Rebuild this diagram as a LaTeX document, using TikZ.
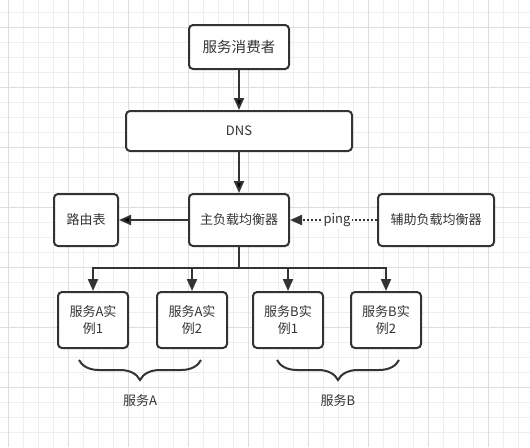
\documentclass[tikz,border=0pt]{standalone}
\usepackage{fontspec}
\setmainfont{Noto Sans CJK SC}
\usepackage{tikz}
\usetikzlibrary{arrows.meta, decorations.pathreplacing}
\definecolor{ink}{HTML}{333333}
\definecolor{gridminor}{HTML}{EEEEEE}
\definecolor{gridmajor}{HTML}{DDDDDD}

\begin{document}
\begin{tikzpicture}[x = 0.75pt, y = -0.75pt, >={Triangle[length = 9pt, width = 7.5pt]},
    box/.style = {draw = ink, line width = 1.5pt, rounded corners = 3pt, fill = white, text = ink, align = center, inner sep = 0pt, font = \fontsize{9.75}{12.75}\selectfont},
    inst/.style = {box, minimum width = 52.5pt, minimum height = 42pt},
    link/.style = {draw = ink, line width = 1.5pt},
    pinglink/.style = {link, dash pattern = on 1.5pt off 1.5pt},
    description/.style = {fill = white, text = ink, inner sep = 1pt, font = \fontsize{9.75}{12}\selectfont},
    group/.style = {link, decorate, decoration = {brace, mirror, amplitude = 15pt}},
    caption/.style = {text = ink, font = \fontsize{9.75}{12}\selectfont}]
      \useasboundingbox (0,0) rectangle (530,447);
      % background grid
      \fill[white] (0,0) rectangle (530,447);
      \foreach \x in {8.3, 23.3, ..., 530} \draw[gridminor, line width = 0.75pt] (\x,0) -- (\x,447);
      \foreach \y in {12.3, 27.3, ..., 447} \draw[gridminor, line width = 0.75pt] (0,\y) -- (530,\y);
      \foreach \x in {8.3, 68.3, ..., 530} \draw[gridmajor, line width = 0.75pt] (\x,0) -- (\x,447);
      \foreach \y in {27.3, 87.3, ..., 447} \draw[gridmajor, line width = 0.75pt] (0,\y) -- (530,\y);

      \node[box, minimum width = 75pt, minimum height = 33pt, font = \fontsize{10.9}{13}\selectfont] (consumer) at (239,47) {服务消费者};
      \node[box, minimum width = 169.5pt, minimum height = 30pt] (dns) at (239,131) {DNS};
      \node[box, minimum width = 75pt, minimum height = 39pt] (lb) at (239,220) {主负载均衡器};
      \node[box, minimum width = 48pt, minimum height = 39pt] (route) at (86,220) {路由表};
      \node[box, minimum width = 87pt, minimum height = 39pt] (backup) at (436,220) {辅助负载均衡器};
      \node[inst] (a1) at (93,320) {服务A实\\例1};
      \node[inst] (a2) at (192,320) {服务A实\\例2};
      \node[inst] (b1) at (288,320) {服务B实\\例1};
      \node[inst] (b2) at (386,320) {服务B实\\例2};
      \coordinate (bus) at (239,268);

      \path[->, link] (consumer) edge (dns)
                      (dns) edge (lb)
                      (lb) edge (route);
      \draw[link] (lb) -- (bus);
      \foreach \inst in {a1, a2, b1, b2} \draw[->, link] (bus) -| (\inst);
      \draw[->, pinglink] (backup) -- node[description, pos = 0.46] {ping} (lb);

      \draw[group] (79,360) -- (201,360);
      \draw[group] (277,360) -- (399,360);
      \node[caption] (svcA) at (140,401) {服务A};
      \node[caption] (svcB) at (338,401) {服务B};
    \end{tikzpicture}
\end{document}
